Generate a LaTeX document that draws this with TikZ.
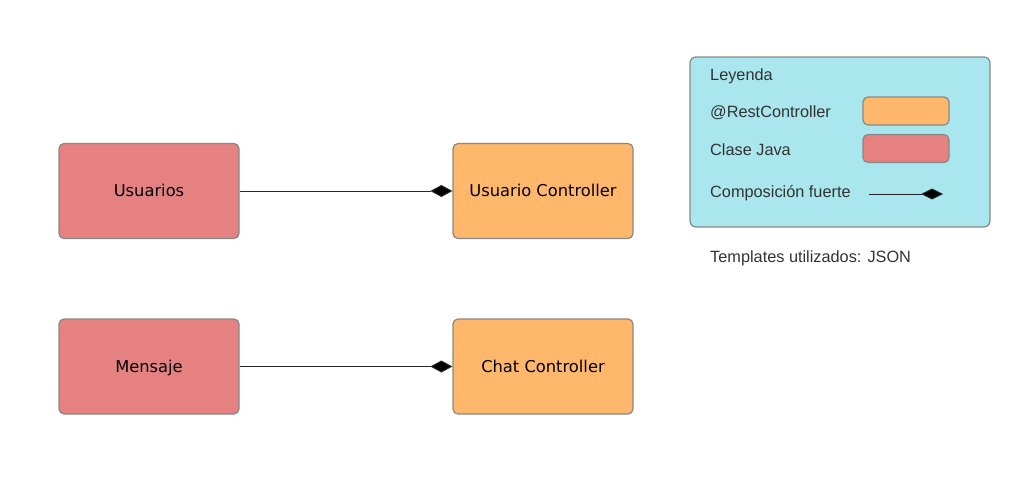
\documentclass[tikz,border=0pt]{standalone}
\usepackage{fontspec}
\setmainfont{Liberation Sans}
\newfontfamily\boxfont{DejaVu Sans}
\usetikzlibrary{arrows.meta}
\definecolor{javared}{HTML}{E58180}
\definecolor{restorange}{HTML}{FFB86B}
\definecolor{legendcyan}{HTML}{A9E6EE}
\definecolor{edgegray}{HTML}{888888}
\definecolor{txtgray}{HTML}{333333}
\tikzset{
  classbox/.style={draw=edgegray, line width=1.2pt, rounded corners=5pt, minimum width=180pt, minimum height=95pt, inner sep=0pt, font=\boxfont\fontsize{16.3}{19}\selectfont, text=black, text height=11.7pt, text depth=0pt},
  javabox/.style={classbox, fill=javared},
  restbox/.style={classbox, fill=restorange},
  swatch/.style={draw=edgegray, line width=1.2pt, rounded corners=5pt, minimum width=86pt, minimum height=28pt, inner sep=0pt},
  legtext/.style={anchor=base west, inner sep=0pt, font=\fontsize{16.3}{19}\selectfont, text=txtgray},
  compo/.style={draw=black!85, line width=1pt, -{Diamond[length=22pt,width=12pt,fill=black]}},
}
\begin{document}
\begin{tikzpicture}[x=1pt,y=-1pt]
\useasboundingbox (0,0) rectangle (1018,485);
% legend panel
\node[draw=edgegray, line width=1.2pt, fill=legendcyan, rounded corners=6pt, minimum width=300pt, minimum height=170pt, inner sep=0pt] (legend) at (840,142) {};
\node[legtext] (ley) at (710,80) {Leyenda};
\node[legtext] (rest) at (710,117) {@RestController};
\node[swatch, fill=restorange] (swo) at (906,111) {};
\node[legtext] (clase) at (710,155) {Clase Java};
\node[swatch, fill=javared] (swr) at (906,148.5) {};
\node[legtext] (comp) at (710,197) {Composición fuerte};
\coordinate (ls) at (869,194);
\coordinate (le) at (943,194);
\draw[compo, -{Diamond[length=22pt,width=11pt,fill=black]}] (ls) -- (le);
\node[legtext] (tmpl) at (710,262) {Templates utilizados: JSON};
% classes
\node[javabox] (usuarios) at (149,191) {Usuarios};
\node[restbox] (usctrl) at (543,191) {Usuario Controller};
\node[javabox] (mensaje) at (149,366.5) {Mensaje};
\node[restbox] (chatctrl) at (543,366.5) {Chat Controller};
\draw[compo] (usuarios) -- (usctrl);
\draw[compo] (mensaje) -- (chatctrl);
\end{tikzpicture}
\end{document}
